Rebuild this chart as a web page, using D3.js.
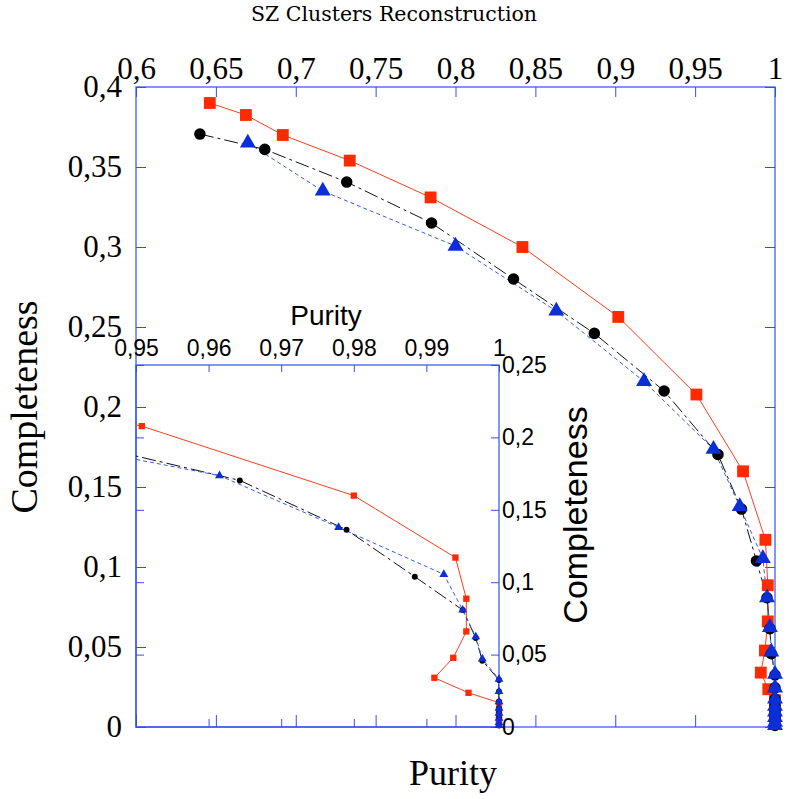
<!DOCTYPE html>
<html>
<head>
<meta charset="utf-8">
<script src="https://cdn.jsdelivr.net/npm/d3@7"></script>
<style>
  body { margin: 0; background: #fff; }
  svg { display: block; }
</style>
</head>
<body>
<div id="chart"></div>
<script>
// values (purity, completeness)
const redPurity = [0.6462, 0.6688, 0.6919, 0.7338, 0.7844, 0.8419, 0.9019, 0.9508, 0.9800, 0.9940, 0.9955, 0.9955, 0.9937, 0.9911, 0.9958, 1, 1, 1, 1, 1]
const redCompleteness = [0.390, 0.3825, 0.370, 0.354, 0.331, 0.300, 0.2563, 0.2078, 0.1598, 0.1170, 0.0886, 0.0660, 0.0478, 0.0340, 0.0236, 0.0168, 0.012, 0.008, 0.005, 0.002]

const blackPurity = [0.6400, 0.6806, 0.7319, 0.7850, 0.8363, 0.8869, 0.9306, 0.9643, 0.9790, 0.9884, 0.9950, 0.9968, 0.9977, 1, 1, 1, 1, 1, 1, 1]
const blackCompleteness = [0.3706, 0.3610, 0.3406, 0.3150, 0.2800, 0.2460, 0.2100, 0.1703, 0.1362, 0.1038, 0.0808, 0.0615, 0.0458, 0.0325, 0.0245, 0.0175, 0.013, 0.0095, 0.006, 0.001]

const bluePurity = [0.6700, 0.7169, 0.8000, 0.8631, 0.9180, 0.9615, 0.9779, 0.9924, 0.9950, 0.9968, 0.9977, 1, 1, 1, 1, 1, 1, 1, 1]
const blueCompleteness = [0.3650, 0.3350, 0.3006, 0.2600, 0.2160, 0.1736, 0.1379, 0.1054, 0.0808, 0.0623, 0.0470, 0.0330, 0.0245, 0.0175, 0.0130, 0.0095, 0.0060, 0.0030, 0.0010]

const mainPurityTicks = [0.6, 0.65, 0.7, 0.75, 0.8, 0.85, 0.9, 0.95, 1]
const mainCompletenessTicks = [0, 0.05, 0.1, 0.15, 0.2, 0.25, 0.3, 0.35, 0.4]
const insetPurityTicks = [0.95, 0.96, 0.97, 0.98, 0.99, 1]
const insetCompletenessTicks = [0, 0.05, 0.1, 0.15, 0.2, 0.25]

const width = 786
const height = 799
const frameBlue = '#2f52e8'
const serif = 'Liberation Serif, Times New Roman, serif'
const sans = 'Liberation Sans, Arial, sans-serif'

const mainBox = { left: 136, right: 775, top: 87, bottom: 727 }
const insetBox = { left: 136, right: 499, top: 365, bottom: 727 }

const fmt = d3.formatLocale({ decimal: ',', thousands: '.', grouping: [3], currency: ['', ''] }).format('~g')

const zip = (xs, ys) => xs.map((p, i) => ({ p, c: ys[i] }))

const series = [
  { data: zip(redPurity, redCompleteness), fill: '#ff2a00', stroke: '#ff3c1e', dash: null, symbol: d3.symbolSquare, size: 140, insetSize: 40 },
  { data: zip(blackPurity, blackCompleteness), fill: '#000', stroke: '#111', dash: '14,4,3,4', symbol: d3.symbolCircle, size: 105, insetSize: 28 },
  { data: zip(bluePurity, blueCompleteness), fill: '#0b2ed8', stroke: '#3a5ae0', dash: '4,3', symbol: d3.symbolTriangle, size: 110, insetSize: 34 }
]

const svg = d3.select('#chart')
  .append('svg')
  .attr('width', width)
  .attr('height', height)

svg.append('defs')
  .append('clipPath')
  .attr('id', 'insetClip')
  .append('rect')
  .attr('x', insetBox.left)
  .attr('y', insetBox.top)
  .attr('width', insetBox.right - insetBox.left)
  .attr('height', insetBox.bottom - insetBox.top)

// scales
const xMain = d3.scaleLinear().domain([0.6, 1]).range([mainBox.left, mainBox.right])
const yMain = d3.scaleLinear().domain([0, 0.4]).range([mainBox.bottom, mainBox.top])
const xInset = d3.scaleLinear().domain([0.95, 1]).range([insetBox.left, insetBox.right])
const yInset = d3.scaleLinear().domain([0, 0.25]).range([insetBox.bottom, insetBox.top])

function styleAxis (g, font, size) {
  g.select('.domain').remove()
  g.attr('font-family', font).attr('font-size', size)
  g.selectAll('line').attr('stroke', frameBlue).attr('stroke-width', 1)
  g.selectAll('text').attr('fill', '#000')
}

function drawFrame (box) {
  svg.append('rect')
    .attr('x', box.left)
    .attr('y', box.top)
    .attr('width', box.right - box.left)
    .attr('height', box.bottom - box.top)
    .attr('fill', 'none')
    .attr('stroke', frameBlue)
    .attr('stroke-width', 1.2)
}

function drawCurves (x, y, opts) {
  const g = svg.append('g')
  const lineGen = d3.line().x(d => x(d.p)).y(d => y(d.c))

  series.forEach(s => {
    g.append('path')
      .datum(s.data)
      .attr('d', lineGen)
      .attr('fill', 'none')
      .attr('stroke', s.stroke)
      .attr('stroke-width', 1)
      .attr('stroke-dasharray', s.dash)
      .attr('clip-path', opts.clip)
  })

  series.forEach(s => {
    const pts = s.data.filter(d => x.domain()[0] - 1e-9 <= d.p && d.c <= y.domain()[1] + 1e-9)
    g.selectAll(null)
      .data(pts)
      .enter()
      .append('path')
      .attr('transform', d => `translate(${x(d.p)},${y(d.c)})`)
      .attr('d', d3.symbol(s.symbol, opts.inset ? s.insetSize : s.size))
      .attr('fill', s.fill)
  })
}

// title
svg.append('text')
  .attr('x', 394)
  .attr('y', 21)
  .attr('text-anchor', 'middle')
  .attr('font-family', 'DejaVu Serif, serif')
  .attr('font-size', 20.5)
  .text('SZ Clusters Reconstruction')

// main plot axes
drawFrame(mainBox)

svg.append('g')
  .attr('transform', `translate(0,${mainBox.top})`)
  .call(d3.axisTop(xMain).tickValues(mainPurityTicks).tickFormat(fmt).tickSize(-10).tickPadding(8))
  .call(g => styleAxis(g, serif, 31))

svg.append('g')
  .attr('transform', `translate(0,${mainBox.bottom})`)
  .call(d3.axisBottom(xMain).tickValues(mainPurityTicks).tickFormat('').tickSize(-12))
  .call(g => styleAxis(g, serif, 31))

svg.append('g')
  .attr('transform', `translate(${mainBox.left},0)`)
  .call(d3.axisLeft(yMain).tickValues(mainCompletenessTicks).tickFormat(fmt).tickSize(-10).tickPadding(14))
  .call(g => styleAxis(g, serif, 31))

svg.append('g')
  .attr('transform', `translate(${mainBox.right},0)`)
  .call(d3.axisRight(yMain).tickValues(mainCompletenessTicks).tickFormat('').tickSize(-10))
  .call(g => styleAxis(g, serif, 31))

svg.append('text')
  .attr('transform', 'translate(37,407) rotate(-90)')
  .attr('text-anchor', 'middle')
  .attr('font-family', serif)
  .attr('font-size', 38)
  .text('Completeness')

svg.append('text')
  .attr('x', 453)
  .attr('y', 785)
  .attr('text-anchor', 'middle')
  .attr('font-family', serif)
  .attr('font-size', 36)
  .text('Purity')

drawCurves(xMain, yMain, { inset: false, clip: null })

// inset
drawFrame(insetBox)

svg.append('g')
  .attr('transform', `translate(0,${insetBox.top})`)
  .call(d3.axisTop(xInset).tickValues(insetPurityTicks).tickFormat(fmt).tickSize(-7).tickPadding(9))
  .call(g => styleAxis(g, sans, 23))

svg.append('g')
  .attr('transform', `translate(0,${insetBox.bottom})`)
  .call(d3.axisBottom(xInset).tickValues(insetPurityTicks).tickFormat('').tickSize(-8))
  .call(g => styleAxis(g, sans, 23))

svg.append('g')
  .attr('transform', `translate(${insetBox.left},0)`)
  .call(d3.axisLeft(yInset).tickValues(insetCompletenessTicks).tickFormat('').tickSize(-8))
  .call(g => styleAxis(g, sans, 23))

svg.append('g')
  .attr('transform', `translate(${insetBox.right},0)`)
  .call(d3.axisRight(yInset).tickValues(insetCompletenessTicks).tickFormat(fmt).tickSize(-8).tickPadding(3))
  .call(g => styleAxis(g, sans, 23))

svg.append('text')
  .attr('x', 326)
  .attr('y', 325)
  .attr('text-anchor', 'middle')
  .attr('font-family', sans)
  .attr('font-size', 28)
  .text('Purity')

svg.append('text')
  .attr('transform', 'translate(587,515) rotate(-90)')
  .attr('text-anchor', 'middle')
  .attr('font-family', sans)
  .attr('font-size', 34)
  .text('Completeness')

drawCurves(xInset, yInset, { inset: true, clip: 'url(#insetClip)' })
</script>
</body>
</html>
